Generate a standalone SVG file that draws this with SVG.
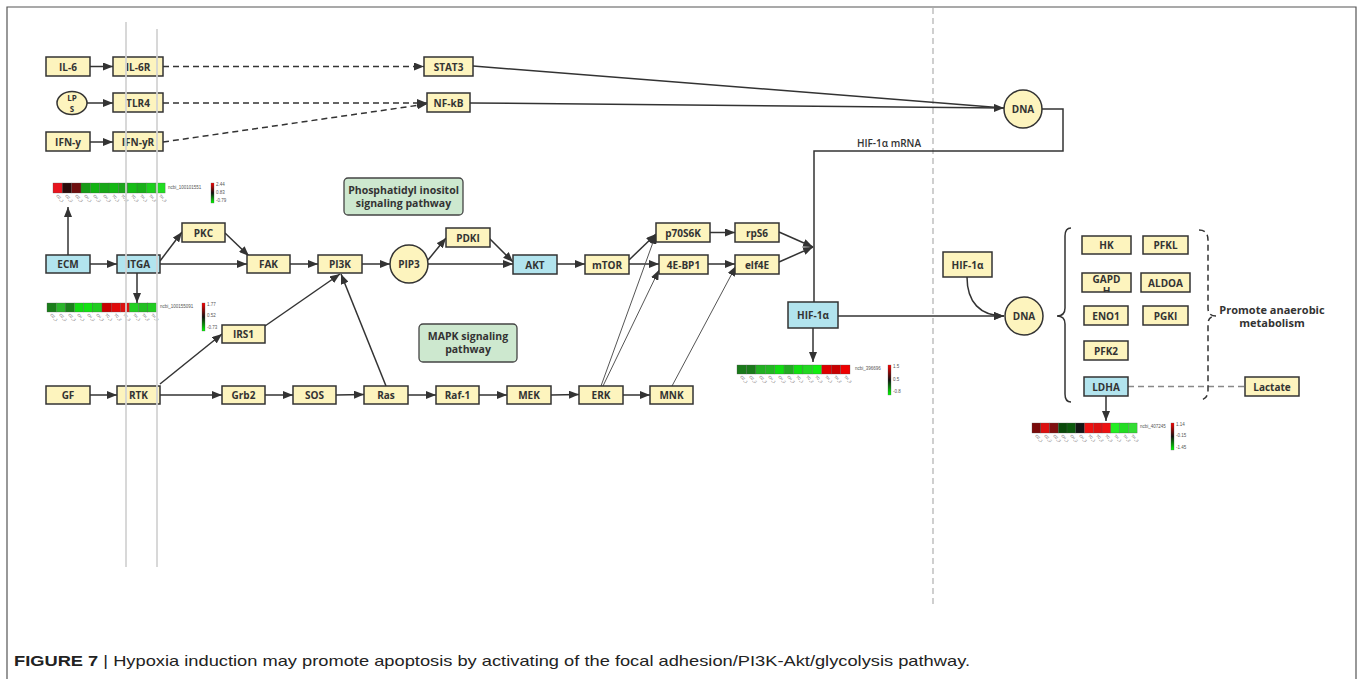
<svg xmlns="http://www.w3.org/2000/svg" width="1363" height="679" viewBox="0 0 1363 679">
<defs>
<style>
.b{fill:#fdf4be;stroke:#333;stroke-width:1.5}
.bl{fill:#b2e4ee;stroke:#333;stroke-width:1.5}
.g{fill:#cde8cf;stroke:#444;stroke-width:1.3}
.t{font-family:"Open Sans","Noto Sans",sans-serif;font-size:10px;font-weight:700;fill:#333;text-anchor:middle;dominant-baseline:central}
.gt{font-family:"Open Sans","Noto Sans",sans-serif;font-size:10.5px;font-weight:700;fill:#333;text-anchor:middle}
.c{fill:none;stroke:#333;stroke-width:1.5}
.ca{fill:none;stroke:#333;stroke-width:1.5;marker-end:url(#arr)}
.da{fill:none;stroke:#333;stroke-width:1.5;stroke-dasharray:6 4;marker-end:url(#arr)}
.th{fill:none;stroke:#555;stroke-width:1;marker-end:url(#arr)}
.hm rect{stroke:#555;stroke-width:0.3}
.tiny{font-family:"Liberation Sans",sans-serif;font-size:3.6px;fill:#555}
.sc{font-family:"Liberation Sans",sans-serif;font-size:4.5px;fill:#555}
</style>
<marker id="arr" markerWidth="10" markerHeight="8" refX="10" refY="4" orient="auto" markerUnits="userSpaceOnUse"><path d="M0,0 L10,4 L0,8 z" fill="#333"/></marker>
<linearGradient id="scale" x1="0" y1="0" x2="0" y2="1"><stop offset="0" stop-color="#ff0000"/><stop offset="0.5" stop-color="#111"/><stop offset="1" stop-color="#00ff00"/></linearGradient>
<clipPath id="gclip"><rect x="1082" y="273" width="49" height="19"/></clipPath>
</defs>
<rect width="1363" height="679" fill="#fff"/>
<path d="M7,679 V7 H1356 V679" fill="none" stroke="#555" stroke-width="1.2"/>
<line x1="933" y1="8" x2="933" y2="606" stroke="#cfcfcf" stroke-width="2" stroke-dasharray="6 4"/>

<!-- heatmaps -->
<g id="heatmap1" class="hm">
<rect x="53" y="183" width="9.4" height="10" fill="#e8141e"/>
<rect x="62.3" y="183" width="9.4" height="10" fill="#2a0a0a"/>
<rect x="71.7" y="183" width="9.4" height="10" fill="#6e0f0f"/>
<rect x="81" y="183" width="9.4" height="10" fill="#169a16"/>
<rect x="90.3" y="183" width="9.4" height="10" fill="#12b312"/>
<rect x="99.7" y="183" width="9.4" height="10" fill="#18a818"/>
<rect x="109" y="183" width="9.4" height="10" fill="#14b814"/>
<rect x="118.3" y="183" width="9.4" height="10" fill="#1da51d"/>
<rect x="127.7" y="183" width="9.4" height="10" fill="#15bd15"/>
<rect x="137" y="183" width="9.4" height="10" fill="#18b018"/>
<rect x="146.3" y="183" width="9.4" height="10" fill="#1ccf1c"/>
<rect x="155.7" y="183" width="9.4" height="10" fill="#22dd22"/>
<text class="sc" x="168" y="189">ncbi_100101551</text>
<rect x="211" y="183" width="3" height="20" fill="url(#scale)" stroke="none"/>
<text class="sc" x="216" y="186">2.44</text><text class="sc" x="216" y="194">0.83</text><text class="sc" x="216" y="202">-0.79</text>
</g>
<g id="heatmap2" class="hm">
<rect x="47" y="303" width="9.2" height="9" fill="#1a7e1a"/>
<rect x="56.2" y="303" width="9.2" height="9" fill="#2bb52b"/>
<rect x="65.3" y="303" width="9.2" height="9" fill="#1a801a"/>
<rect x="74.5" y="303" width="9.2" height="9" fill="#11dd11"/>
<rect x="83.7" y="303" width="9.2" height="9" fill="#11e311"/>
<rect x="92.8" y="303" width="9.2" height="9" fill="#20cc20"/>
<rect x="102" y="303" width="9.2" height="9" fill="#c80000"/>
<rect x="111.2" y="303" width="9.2" height="9" fill="#e00a0a"/>
<rect x="120.3" y="303" width="9.2" height="9" fill="#dd1111"/>
<rect x="129.5" y="303" width="9.2" height="9" fill="#22d022"/>
<rect x="138.7" y="303" width="9.2" height="9" fill="#22c022"/>
<rect x="147.8" y="303" width="9.2" height="9" fill="#22cc22"/>
<text class="sc" x="160" y="308">ncbi_100155091</text>
<rect x="202" y="303" width="3" height="28" fill="url(#scale)" stroke="none"/>
<text class="sc" x="207" y="306">1.77</text><text class="sc" x="207" y="317">0.52</text><text class="sc" x="207" y="329">-0.73</text>
</g>
<g id="heatmap3" class="hm">
<rect x="737" y="365" width="9.4" height="9" fill="#1a7a1a"/>
<rect x="746.4" y="365" width="9.4" height="9" fill="#1a7a1a"/>
<rect x="755.8" y="365" width="9.4" height="9" fill="#22b022"/>
<rect x="765.3" y="365" width="9.4" height="9" fill="#22b822"/>
<rect x="774.7" y="365" width="9.4" height="9" fill="#11dd11"/>
<rect x="784.1" y="365" width="9.4" height="9" fill="#22aa22"/>
<rect x="793.5" y="365" width="9.4" height="9" fill="#11e011"/>
<rect x="802.9" y="365" width="9.4" height="9" fill="#22d822"/>
<rect x="812.3" y="365" width="9.4" height="9" fill="#11ee11"/>
<rect x="821.8" y="365" width="9.4" height="9" fill="#dd0000"/>
<rect x="831.2" y="365" width="9.4" height="9" fill="#c80000"/>
<rect x="840.6" y="365" width="9.4" height="9" fill="#ee0000"/>
<text class="sc" x="855" y="370">ncbi_396696</text>
<rect x="888" y="365" width="3" height="30" fill="url(#scale)" stroke="none"/>
<text class="sc" x="893" y="368">1.5</text><text class="sc" x="893" y="381">0.5</text><text class="sc" x="893" y="393">-0.8</text>
</g>
<g id="heatmap4" class="hm">
<rect x="1032" y="423" width="8.8" height="10" fill="#7a0a0a"/>
<rect x="1040.8" y="423" width="8.8" height="10" fill="#dd1111"/>
<rect x="1049.5" y="423" width="8.8" height="10" fill="#801010"/>
<rect x="1058.3" y="423" width="8.8" height="10" fill="#0a4a0a"/>
<rect x="1067" y="423" width="8.8" height="10" fill="#0d5a0d"/>
<rect x="1075.8" y="423" width="8.8" height="10" fill="#151515"/>
<rect x="1084.5" y="423" width="8.8" height="10" fill="#ee1111"/>
<rect x="1093.3" y="423" width="8.8" height="10" fill="#dd1111"/>
<rect x="1102" y="423" width="8.8" height="10" fill="#ee1111"/>
<rect x="1110.8" y="423" width="8.8" height="10" fill="#22ee22"/>
<rect x="1119.5" y="423" width="8.8" height="10" fill="#22dd22"/>
<rect x="1128.3" y="423" width="8.8" height="10" fill="#33dd33"/>
<text class="sc" x="1140" y="428">ncbi_407245</text>
<rect x="1171" y="423" width="3" height="27" fill="url(#scale)" stroke="none"/>
<text class="sc" x="1176" y="426">1.14</text><text class="sc" x="1176" y="437">-0.15</text><text class="sc" x="1176" y="449">-1.45</text>
</g>
<g id="heatmap-labels" class="tiny">
<text transform="translate(56,196) rotate(45)">CC_1</text><text transform="translate(65,196) rotate(45)">CC_2</text><text transform="translate(75,196) rotate(45)">CC_3</text><text transform="translate(84,196) rotate(45)">CH_1</text><text transform="translate(93,196) rotate(45)">CH_2</text><text transform="translate(103,196) rotate(45)">CH_3</text><text transform="translate(112,196) rotate(45)">TC_1</text><text transform="translate(121,196) rotate(45)">TC_2</text><text transform="translate(131,196) rotate(45)">TC_3</text><text transform="translate(140,196) rotate(45)">TH_1</text><text transform="translate(149,196) rotate(45)">TH_2</text><text transform="translate(159,196) rotate(45)">TH_3</text>
<text transform="translate(50,315) rotate(45)">CC_1</text><text transform="translate(59,315) rotate(45)">CC_2</text><text transform="translate(68,315) rotate(45)">CC_3</text><text transform="translate(77,315) rotate(45)">CH_1</text><text transform="translate(87,315) rotate(45)">CH_2</text><text transform="translate(96,315) rotate(45)">CH_3</text><text transform="translate(105,315) rotate(45)">TC_1</text><text transform="translate(114,315) rotate(45)">TC_2</text><text transform="translate(123,315) rotate(45)">TC_3</text><text transform="translate(133,315) rotate(45)">TH_1</text><text transform="translate(142,315) rotate(45)">TH_2</text><text transform="translate(151,315) rotate(45)">TH_3</text>
<text transform="translate(740,377) rotate(45)">CC_1</text><text transform="translate(749,377) rotate(45)">CC_2</text><text transform="translate(759,377) rotate(45)">CC_3</text><text transform="translate(768,377) rotate(45)">CH_1</text><text transform="translate(778,377) rotate(45)">CH_2</text><text transform="translate(787,377) rotate(45)">CH_3</text><text transform="translate(796,377) rotate(45)">TC_1</text><text transform="translate(806,377) rotate(45)">TC_2</text><text transform="translate(815,377) rotate(45)">TC_3</text><text transform="translate(825,377) rotate(45)">TH_1</text><text transform="translate(834,377) rotate(45)">TH_2</text><text transform="translate(844,377) rotate(45)">TH_3</text>
<text transform="translate(1035,436) rotate(45)">CC_1</text><text transform="translate(1044,436) rotate(45)">CC_2</text><text transform="translate(1053,436) rotate(45)">CC_3</text><text transform="translate(1061,436) rotate(45)">CH_1</text><text transform="translate(1070,436) rotate(45)">CH_2</text><text transform="translate(1079,436) rotate(45)">CH_3</text><text transform="translate(1088,436) rotate(45)">TC_1</text><text transform="translate(1096,436) rotate(45)">TC_2</text><text transform="translate(1105,436) rotate(45)">TC_3</text><text transform="translate(1114,436) rotate(45)">TH_1</text><text transform="translate(1123,436) rotate(45)">TH_2</text><text transform="translate(1131,436) rotate(45)">TH_3</text>
</g>

<!-- connectors -->
<g id="connectors">
<line class="ca" x1="90" y1="66.5" x2="113" y2="66.5"/>
<line class="ca" x1="87" y1="103" x2="113" y2="103"/>
<line class="ca" x1="90" y1="142" x2="113" y2="142"/>
<line class="da" x1="163" y1="66.5" x2="424" y2="66.5"/>
<line class="da" x1="163" y1="103" x2="427" y2="103"/>
<line class="da" x1="163" y1="142" x2="427" y2="104"/>
<line class="c" x1="473" y1="66" x2="1004" y2="108"/>
<line class="ca" x1="470" y1="103" x2="1004" y2="108"/>
<path class="c" d="M1041,109 H1063 V151 H814 V302"/>
<line class="ca" x1="68" y1="255" x2="68" y2="207"/>
<line class="ca" x1="90" y1="264" x2="117" y2="264"/>
<line class="ca" x1="137" y1="273" x2="137" y2="303"/>
<line class="ca" x1="160" y1="261" x2="182" y2="232"/>
<line class="ca" x1="160" y1="264" x2="247" y2="264"/>
<line class="ca" x1="225" y1="233" x2="249" y2="256"/>
<line class="ca" x1="290" y1="264" x2="318" y2="264"/>
<line class="ca" x1="362" y1="264" x2="390" y2="264"/>
<line class="ca" x1="428" y1="260" x2="446" y2="238"/>
<line class="ca" x1="428" y1="264" x2="513" y2="264"/>
<line class="ca" x1="489" y1="238" x2="513" y2="262"/>
<line class="ca" x1="557" y1="264" x2="585" y2="264"/>
<line class="ca" x1="629" y1="260" x2="656" y2="234"/>
<line class="ca" x1="629" y1="264" x2="659" y2="264"/>
<line class="ca" x1="710" y1="232.5" x2="735" y2="232.5"/>
<line class="ca" x1="708" y1="264" x2="735" y2="264"/>
<line class="ca" x1="779" y1="232" x2="813" y2="247"/>
<line class="ca" x1="779" y1="262" x2="813" y2="247"/>
<line class="th" x1="601" y1="386" x2="656" y2="234"/>
<line class="th" x1="603" y1="386" x2="659" y2="270"/>
<line class="th" x1="672" y1="386" x2="736" y2="266"/>
<line class="ca" x1="813" y1="328" x2="813" y2="362"/>
<line class="ca" x1="838" y1="316" x2="1004" y2="316"/>
<line class="ca" x1="90" y1="395" x2="117" y2="395"/>
<line class="ca" x1="160" y1="395" x2="222" y2="395"/>
<line class="ca" x1="160" y1="384" x2="222" y2="334"/>
<line class="ca" x1="265" y1="326" x2="340" y2="274"/>
<line class="ca" x1="386" y1="386" x2="341" y2="274"/>
<line class="ca" x1="265" y1="395" x2="293" y2="395"/>
<line class="ca" x1="336" y1="395" x2="364" y2="394.5"/>
<line class="ca" x1="408" y1="395" x2="436" y2="395"/>
<line class="ca" x1="479" y1="395" x2="507" y2="395"/>
<line class="ca" x1="551" y1="395" x2="579" y2="394.5"/>
<line class="ca" x1="623" y1="395" x2="650" y2="395"/>
<path class="ca" d="M967,277 C967,302 980,316 1004,316"/>
<line class="ca" x1="1106" y1="396" x2="1106" y2="421"/>
<line x1="1128" y1="386.5" x2="1245" y2="386.5" stroke="#888" stroke-width="1.3" stroke-dasharray="6 4"/>
<path class="c" d="M1071,228 Q1065,228 1065,236 V308 Q1065,316 1057,316 Q1065,316 1065,324 V394 Q1065,402 1071,402"/>
<path class="c" stroke-dasharray="6 4" d="M1199,230 Q1208,230 1208,240 V308 Q1208,316 1216,316 Q1208,316 1208,324 V390 Q1208,400 1199,400"/>
</g>

<!-- labels -->
<g id="label-mrna"><text class="t" style="font-weight:600" x="889" y="143">HIF-1α mRNA</text></g>
<g id="label-pi"><rect class="g" x="344" y="178" width="119" height="37" rx="4"/><text class="gt" x="403.5" y="194">Phosphatidyl inositol</text><text class="gt" x="403.5" y="207">signaling pathway</text></g>
<g id="label-mapk"><rect class="g" x="419" y="324" width="98" height="38" rx="4"/><text class="gt" x="468" y="340">MAPK signaling</text><text class="gt" x="468" y="353">pathway</text></g>
<g id="label-anaerobic"><text class="gt" style="font-size:11px" x="1272" y="314">Promote anaerobic</text><text class="gt" style="font-size:11px" x="1272" y="327">metabolism</text></g>

<!-- nodes -->
<g id="n-il6"><rect class="b" x="46" y="57" width="44" height="19"/><text class="t" x="68" y="66.5">IL-6</text></g>
<g id="n-il6r"><rect class="b" x="113" y="57" width="50" height="19"/><text class="t" x="138" y="66.5">IL-6R</text></g>
<g id="n-stat3"><rect class="b" x="424" y="57" width="49" height="19"/><text class="t" x="448.5" y="66.5">STAT3</text></g>
<g id="n-lps"><ellipse class="b" cx="72" cy="103" rx="15" ry="11.5"/><text class="t" style="font-size:8px" x="72" y="97.5">LP</text><text class="t" style="font-size:8px" x="72" y="108.5">S</text></g>
<g id="n-tlr4"><rect class="b" x="113" y="93" width="50" height="19"/><text class="t" x="138" y="102.5">TLR4</text></g>
<g id="n-nfkb"><rect class="b" x="427" y="93" width="43" height="19"/><text class="t" x="448.5" y="102.5">NF-kB</text></g>
<g id="n-ifny"><rect class="b" x="46" y="132" width="44" height="19"/><text class="t" x="68" y="141.5">IFN-y</text></g>
<g id="n-ifnyr"><rect class="b" x="113" y="132" width="50" height="19"/><text class="t" x="138" y="141.5">IFN-yR</text></g>
<g id="n-dna1"><circle class="b" cx="1023" cy="109" r="19"/><text class="t" x="1023" y="109">DNA</text></g>
<g id="n-ecm"><rect class="bl" x="46" y="255" width="44" height="18"/><text class="t" x="68" y="264">ECM</text></g>
<g id="n-itga"><rect class="bl" x="117" y="255" width="43" height="18"/><text class="t" x="138.5" y="264">ITGA</text></g>
<g id="n-pkc"><rect class="b" x="182" y="223" width="43" height="19"/><text class="t" x="203.5" y="232.5">PKC</text></g>
<g id="n-fak"><rect class="b" x="247" y="255" width="43" height="18"/><text class="t" x="268.5" y="264">FAK</text></g>
<g id="n-pi3k"><rect class="b" x="318" y="255" width="44" height="18"/><text class="t" x="340" y="264">PI3K</text></g>
<g id="n-pip3"><circle class="b" cx="409" cy="264" r="19"/><text class="t" x="409" y="264">PIP3</text></g>
<g id="n-pdki"><rect class="b" x="446" y="228" width="44" height="19"/><text class="t" x="468" y="237.5">PDKI</text></g>
<g id="n-akt"><rect class="bl" x="513" y="255" width="44" height="19"/><text class="t" x="535" y="264.5">AKT</text></g>
<g id="n-mtor"><rect class="b" x="585" y="255" width="44" height="19"/><text class="t" x="607" y="264.5">mTOR</text></g>
<g id="n-p70s6k"><rect class="b" x="656" y="223" width="54" height="19"/><text class="t" x="683" y="232.5">p70S6K</text></g>
<g id="n-4ebp1"><rect class="b" x="659" y="255" width="49" height="19"/><text class="t" x="683.5" y="264.5">4E-BP1</text></g>
<g id="n-rps6"><rect class="b" x="735" y="223" width="44" height="19"/><text class="t" x="757" y="232.5">rpS6</text></g>
<g id="n-elf4e"><rect class="b" x="735" y="255" width="44" height="19"/><text class="t" x="757" y="264.5">elf4E</text></g>
<g id="n-hif1a-blue"><rect class="bl" x="788" y="302" width="50" height="26"/><text class="t" x="813" y="315">HIF-1α</text></g>
<g id="n-irs1"><rect class="b" x="222" y="325" width="43" height="18"/><text class="t" x="243.5" y="334">IRS1</text></g>
<g id="n-gf"><rect class="b" x="46" y="386" width="44" height="18"/><text class="t" x="68" y="395">GF</text></g>
<g id="n-rtk"><rect class="b" x="117" y="386" width="43" height="18"/><text class="t" x="138.5" y="395">RTK</text></g>
<g id="n-grb2"><rect class="b" x="222" y="386" width="43" height="18"/><text class="t" x="243.5" y="395">Grb2</text></g>
<g id="n-sos"><rect class="b" x="293" y="386" width="43" height="18"/><text class="t" x="314.5" y="395">SOS</text></g>
<g id="n-ras"><rect class="b" x="364" y="386" width="44" height="18"/><text class="t" x="386" y="395">Ras</text></g>
<g id="n-raf1"><rect class="b" x="436" y="386" width="43" height="18"/><text class="t" x="457.5" y="395">Raf-1</text></g>
<g id="n-mek"><rect class="b" x="507" y="386" width="44" height="18"/><text class="t" x="529" y="395">MEK</text></g>
<g id="n-erk"><rect class="b" x="579" y="386" width="44" height="18"/><text class="t" x="601" y="395">ERK</text></g>
<g id="n-mnk"><rect class="b" x="650" y="386" width="43" height="18"/><text class="t" x="671.5" y="395">MNK</text></g>
<g id="n-hif1a"><rect class="b" x="943" y="252" width="49" height="25"/><text class="t" x="967.5" y="264.5">HIF-1α</text></g>
<g id="n-dna2"><circle class="b" cx="1024" cy="316" r="19"/><text class="t" x="1024" y="316">DNA</text></g>
<g id="n-hk"><rect class="b" x="1082" y="236" width="49" height="18"/><text class="t" x="1106.5" y="245">HK</text></g>
<g id="n-pfkl"><rect class="b" x="1143" y="236" width="45" height="18"/><text class="t" x="1165.5" y="245">PFKL</text></g>
<g id="n-gapdh"><rect class="b" x="1082" y="273" width="49" height="19"/><g clip-path="url(#gclip)"><text class="t" x="1106.5" y="279">GAPD</text><text class="t" x="1106.5" y="291">H</text></g></g>
<g id="n-aldoa"><rect class="b" x="1141" y="273" width="49" height="19"/><text class="t" x="1165.5" y="282.5">ALDOA</text></g>
<g id="n-eno1"><rect class="b" x="1084" y="306" width="44" height="19"/><text class="t" x="1106" y="315.5">ENO1</text></g>
<g id="n-pgki"><rect class="b" x="1143" y="306" width="45" height="19"/><text class="t" x="1165.5" y="315.5">PGKI</text></g>
<g id="n-pfk2"><rect class="b" x="1084" y="341" width="44" height="19"/><text class="t" x="1106" y="350.5">PFK2</text></g>
<g id="n-ldha"><rect class="bl" x="1084" y="377" width="44" height="19"/><text class="t" x="1106" y="386.5">LDHA</text></g>
<g id="n-lactate"><rect class="b" x="1245" y="377" width="54" height="19"/><text class="t" x="1272" y="386.5">Lactate</text></g>

<!-- gray guide lines -->
<line x1="126" y1="22" x2="126" y2="567" stroke="#d2d2d2" stroke-width="2" opacity="0.85"/>
<line x1="157" y1="29" x2="157" y2="567" stroke="#d2d2d2" stroke-width="2" opacity="0.85"/>

<text x="14" y="666" font-family="'Liberation Sans',Arial,sans-serif" font-size="14.5" fill="#222" textLength="956" lengthAdjust="spacingAndGlyphs"><tspan font-weight="700">FIGURE 7</tspan> | Hypoxia induction may promote apoptosis by activating of the focal adhesion/PI3K-Akt/glycolysis pathway.</text>
</svg>
